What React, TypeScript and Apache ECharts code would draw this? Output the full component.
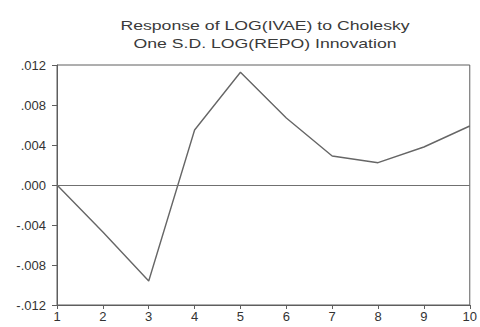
import React, { useEffect, useRef } from "react";
import * as echarts from "echarts";

// Impulse response of LOG(IVAE) to a one S.D. LOG(REPO) shock
const periods = [1, 2, 3, 4, 5, 6, 7, 8, 9, 10];
const response = [0.0, -0.0047, -0.0096, 0.0055, 0.01127, 0.0067, 0.0029, 0.00223, 0.0038, 0.0059];
const titleLines = ["Response of LOG(IVAE) to Cholesky", "One S.D. LOG(REPO) Innovation"];

const fmtY = (v: number) => {
  const s = Math.abs(v).toFixed(3).replace(/^0/, "");
  return v < -1e-9 ? "-" + s : s;
};

export default function App() {
  const ref = useRef<HTMLDivElement>(null);
  useEffect(() => {
    if (!ref.current) return;
    const chart = echarts.init(ref.current, undefined, { renderer: "svg" });
    const axisColor = "#5e5e5e";
    const font = "'Liberation Sans', Arial, sans-serif";
    chart.setOption({
      animation: false,
      backgroundColor: "#ffffff",
      graphic: titleLines.map((t, i) => ({
        type: "text",
        x: 265,
        y: 25 + i * 18,
        scaleX: 1.36,
        silent: true,
        style: {
          text: t,
          font: `13px ${font}`,
          fill: "#3a3a3a",
          textAlign: "center",
          textVerticalAlign: "middle",
        },
      })),
      grid: {
        left: 57,
        right: 8,
        top: 65,
        bottom: 22,
        show: true,
        borderColor: axisColor,
        borderWidth: 1,
        backgroundColor: "transparent",
      },
      xAxis: {
        type: "value",
        min: 1,
        max: 10,
        interval: 1,
        axisLine: { show: true, onZero: false, lineStyle: { color: axisColor, width: 1 } },
        axisTick: { show: true, inside: false, length: 4, lineStyle: { color: axisColor } },
        axisLabel: { color: "#333", fontFamily: font, fontSize: 13, margin: 5 },
        splitLine: { show: false },
      },
      yAxis: {
        type: "value",
        min: -0.012,
        max: 0.012,
        interval: 0.004,
        axisLine: { show: true, lineStyle: { color: axisColor, width: 1 } },
        axisTick: { show: true, inside: false, length: 5, lineStyle: { color: axisColor } },
        axisLabel: {
          color: "#333",
          fontFamily: font,
          fontSize: 13,
          margin: 11,
          formatter: (v: number) => fmtY(v),
        },
        splitLine: { show: false },
      },
      series: [
        {
          type: "line",
          data: periods.map((p, i) => [p, response[i]]),
          showSymbol: false,
          lineStyle: { color: "#666666", width: 1.4 },
          markLine: {
            silent: true,
            symbol: "none",
            label: { show: false },
            lineStyle: { color: "#707070", width: 1, type: "solid" },
            data: [{ yAxis: 0 }],
          },
        },
      ],
    });
    return () => chart.dispose();
  }, []);
  return (
    <div
      ref={ref}
      style={{ position: "fixed", left: 0, top: 0, width: 480, height: 327 }}
    />
  );
}
